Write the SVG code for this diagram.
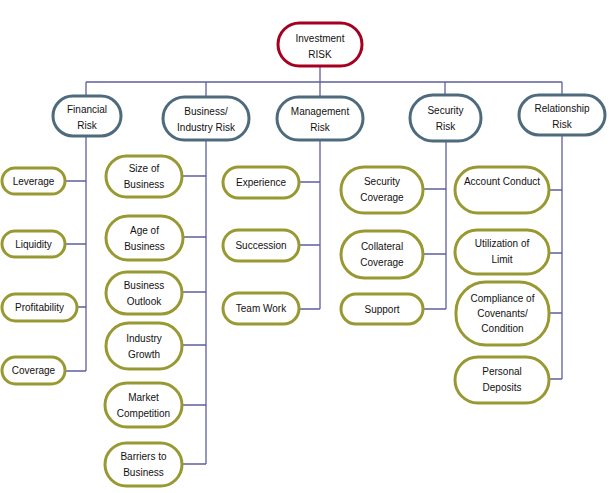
<svg xmlns="http://www.w3.org/2000/svg" width="609" height="493" viewBox="0 0 609 493">
<style>
.c{fill:none;stroke:#5F5F9E;stroke-width:1.3}
.r{fill:#fff;stroke:#A50021;stroke-width:3}
.m{fill:#fff;stroke:#4E6B7D;stroke-width:3}
.l{fill:#fff;stroke:#999933;stroke-width:3}
text{font-family:"Liberation Sans",Arial,sans-serif;font-size:10px;fill:#111;text-anchor:middle}
</style>
<rect width="609" height="493" fill="#fff"/>
<g id="connectors">
<path class="c" d="M320 66V82M86 82H562M86 82V96M206 82V97M320 82V97M445 82V95M562 82V95"/>
<path class="c" d="M86 136V371M65 181H86M65 244H86M77 307H86M65 371H86"/>
<path class="c" d="M206 140V464M182 176H206M183 237H206M182 292H206M182 345H206M182 405H206M182 464H206"/>
<path class="c" d="M320 140V309M299 182H320M299 245H320M299 309H320"/>
<path class="c" d="M446 141V309M423 189H446M423 254H446M423 309H446"/>
<path class="c" d="M562 135V379M549 190H562M549 253H562M549 313H562M549 379H562"/>
</g>
<g id="root"><rect class="r" x="278" y="23" width="84" height="43" rx="21.5"/><text x="320" y="42">Investment</text><text x="320" y="58">RISK</text></g>
<g id="financial"><rect class="m" x="53" y="96" width="68" height="40" rx="20"/><text x="87" y="113">Financial</text><text x="87" y="129">Risk</text></g>
<g id="business"><rect class="m" x="163" y="97" width="86" height="43" rx="21.5"/><text x="206" y="115">Business/</text><text x="206" y="131">Industry Risk</text></g>
<g id="management"><rect class="m" x="277" y="97" width="86" height="43" rx="21.5"/><text x="320" y="115">Management</text><text x="320" y="131">Risk</text></g>
<g id="security"><rect class="m" x="410" y="95" width="71" height="46" rx="23"/><text x="445.5" y="114">Security</text><text x="445.5" y="130">Risk</text></g>
<g id="relationship"><rect class="m" x="519" y="95" width="86" height="40" rx="20"/><text x="562" y="112">Relationship</text><text x="562" y="128">Risk</text></g>
<g id="leverage"><rect class="l" x="2" y="168" width="63" height="26" rx="13"/><text x="33.5" y="184.5">Leverage</text></g>
<g id="liquidity"><rect class="l" x="2" y="231" width="63" height="26" rx="13"/><text x="33.5" y="247.5">Liquidity</text></g>
<g id="profitability"><rect class="l" x="2" y="294" width="75" height="27" rx="13.5"/><text x="39.5" y="311">Profitability</text></g>
<g id="coverage"><rect class="l" x="2" y="357" width="63" height="27" rx="13.5"/><text x="33.5" y="374">Coverage</text></g>
<g id="size"><rect class="l" x="106" y="156" width="76" height="41" rx="20.5"/><text x="144" y="172">Size of</text><text x="144" y="188">Business</text></g>
<g id="age"><rect class="l" x="106" y="216" width="77" height="44" rx="22"/><text x="144.5" y="233.5">Age of</text><text x="144.5" y="249.5">Business</text></g>
<g id="outlook"><rect class="l" x="106" y="272" width="76" height="42" rx="21"/><text x="144" y="288.5">Business</text><text x="144" y="304.5">Outlook</text></g>
<g id="growth"><rect class="l" x="106" y="323" width="76" height="46" rx="23"/><text x="144" y="341.5">Industry</text><text x="144" y="357.5">Growth</text></g>
<g id="competition"><rect class="l" x="105" y="383" width="77" height="44" rx="22"/><text x="143.5" y="400.5">Market</text><text x="143.5" y="416.5">Competition</text></g>
<g id="barriers"><rect class="l" x="105" y="443" width="77" height="43" rx="21.5"/><text x="143.5" y="460">Barriers to</text><text x="143.5" y="476">Business</text></g>
<g id="experience"><rect class="l" x="223" y="167" width="76" height="31" rx="15.5"/><text x="261" y="186">Experience</text></g>
<g id="succession"><rect class="l" x="223" y="230" width="76" height="31" rx="15.5"/><text x="261" y="249">Succession</text></g>
<g id="teamwork"><rect class="l" x="223" y="293" width="76" height="31" rx="15.5"/><text x="261" y="312">Team Work</text></g>
<g id="seccoverage"><rect class="l" x="341" y="167" width="82" height="46" rx="23"/><text x="382" y="185">Security</text><text x="382" y="201">Coverage</text></g>
<g id="collateral"><rect class="l" x="341" y="231" width="82" height="47" rx="23.5"/><text x="382" y="249.5">Collateral</text><text x="382" y="265.5">Coverage</text></g>
<g id="support"><rect class="l" x="341" y="294" width="82" height="30" rx="15"/><text x="382" y="312.5">Support</text></g>
<g id="account"><rect class="l" x="455" y="167" width="94" height="46" rx="23"/><text x="502" y="185">Account Conduct</text></g>
<g id="utilization"><rect class="l" x="455" y="230" width="94" height="44" rx="22"/><text x="502" y="247">Utilization of</text><text x="502" y="263">Limit</text></g>
<g id="compliance"><rect class="l" x="456" y="282" width="93" height="63" rx="30"/><text x="502.5" y="302">Compliance of</text><text x="502.5" y="317">Covenants/</text><text x="502.5" y="332">Condition</text></g>
<g id="deposits"><rect class="l" x="455" y="357" width="94" height="46" rx="23"/><text x="502" y="375">Personal</text><text x="502" y="391">Deposits</text></g>
</svg>
